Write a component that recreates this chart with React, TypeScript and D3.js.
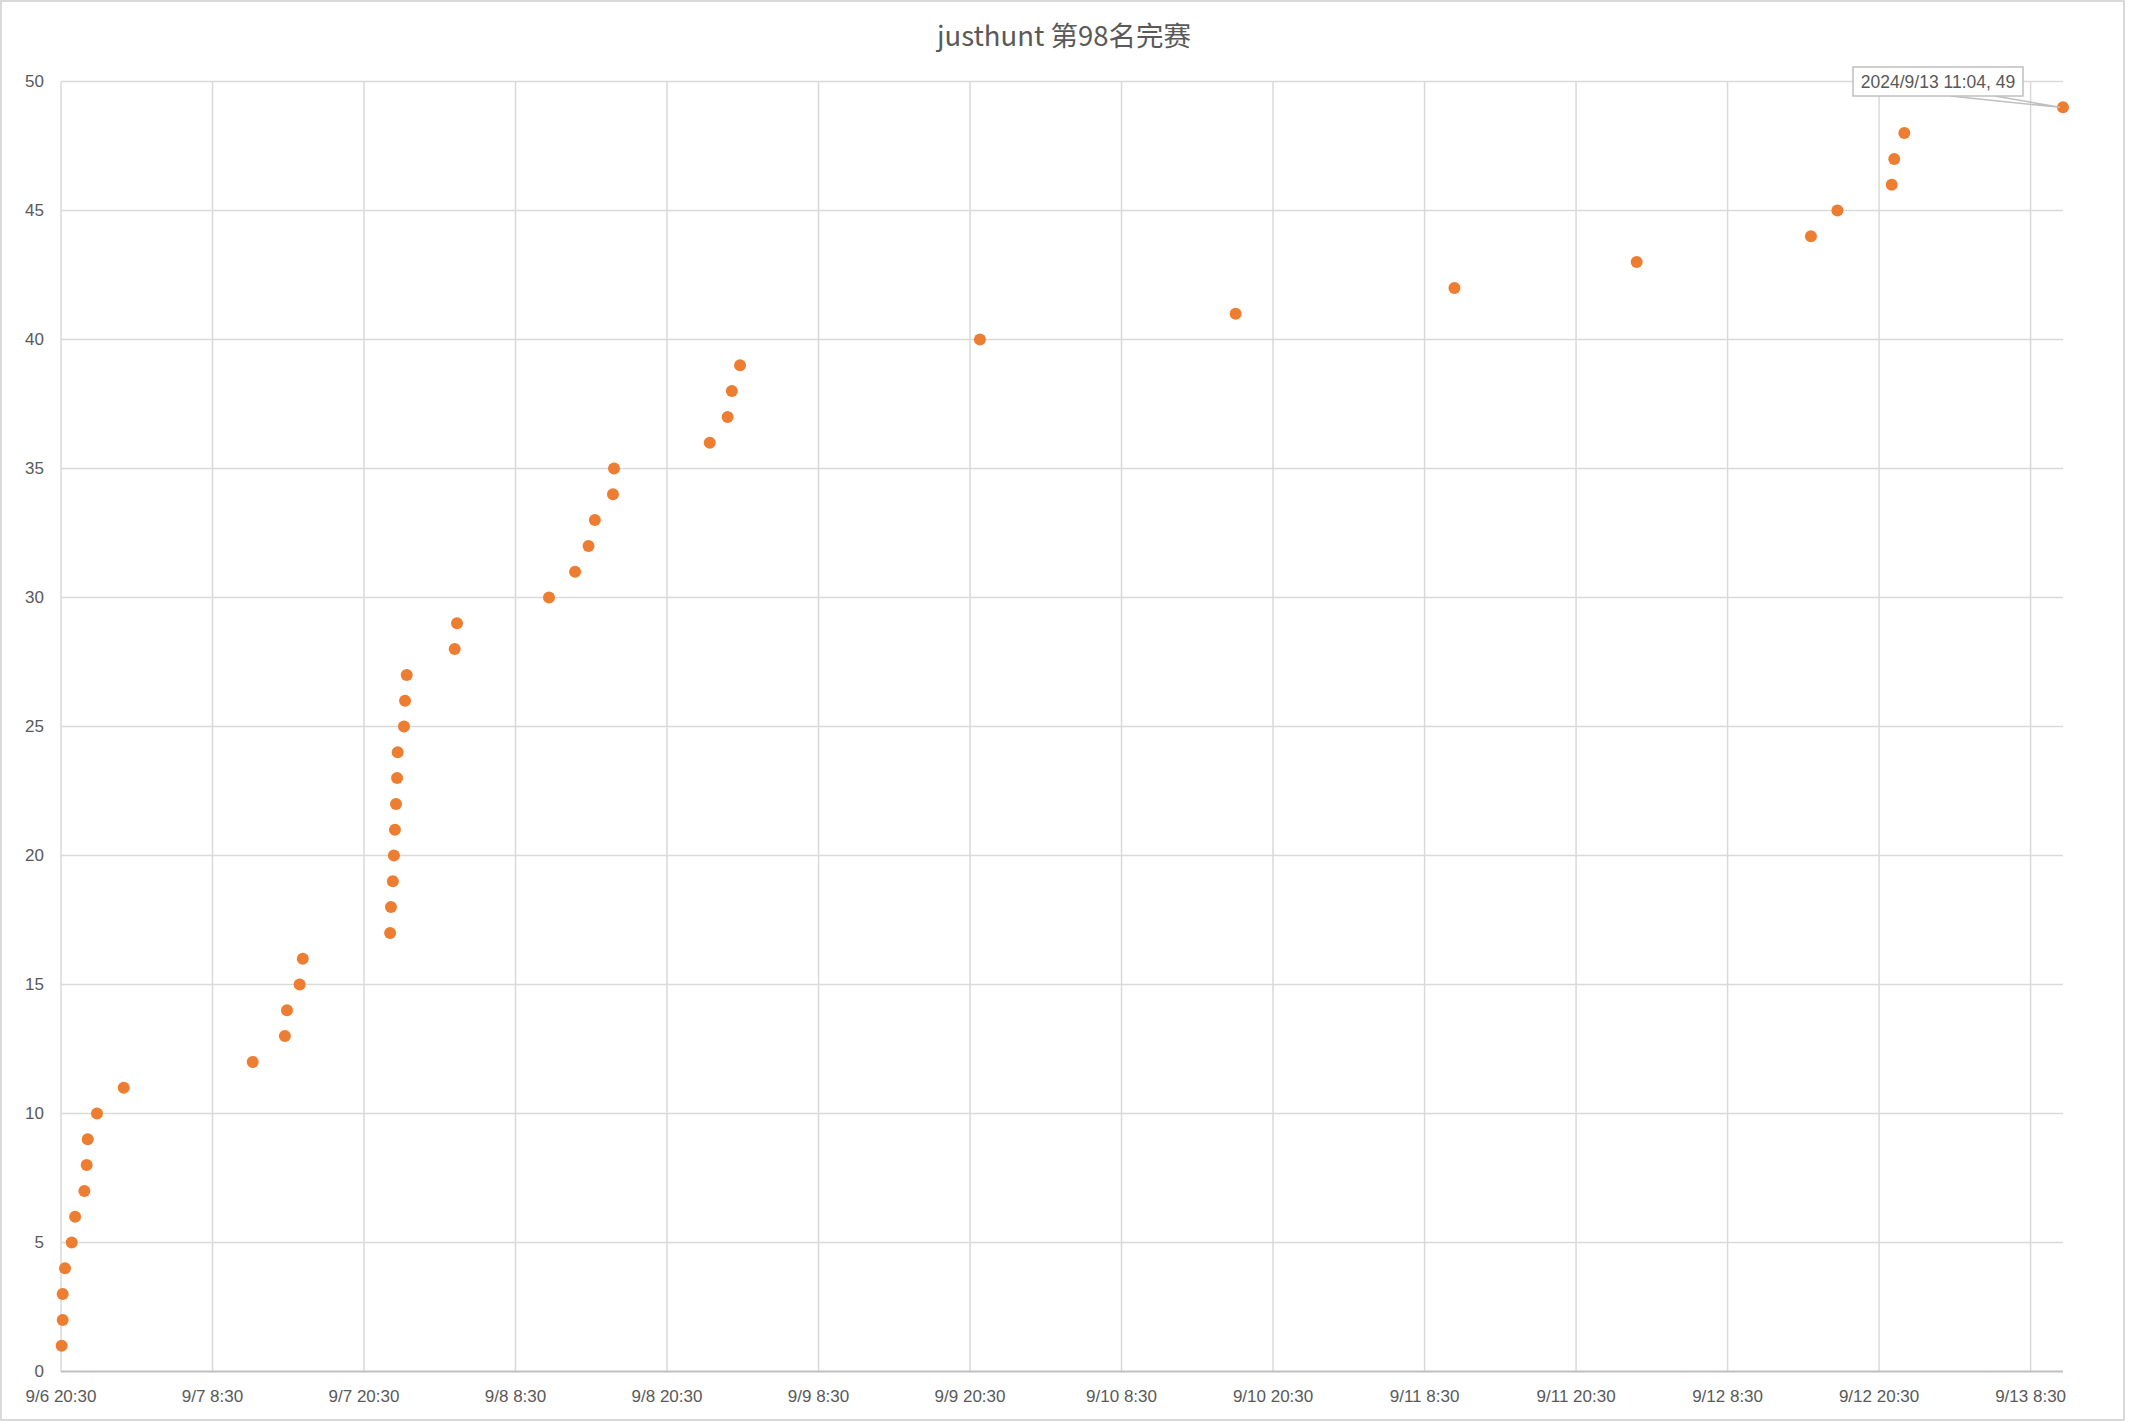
import React from "react";
import * as d3 from "d3";

const TITLE = "justhunt 第98名完赛";

const finishTimes: string[] = [
  "2024-09-06 20:33", "2024-09-06 20:38", "2024-09-06 20:38", "2024-09-06 20:49",
  "2024-09-06 21:21", "2024-09-06 21:37", "2024-09-06 22:21", "2024-09-06 22:32",
  "2024-09-06 22:37", "2024-09-06 23:21", "2024-09-07 01:28", "2024-09-07 11:41",
  "2024-09-07 14:14", "2024-09-07 14:24", "2024-09-07 15:24", "2024-09-07 15:39",
  "2024-09-07 22:34", "2024-09-07 22:38", "2024-09-07 22:47", "2024-09-07 22:52",
  "2024-09-07 22:57", "2024-09-07 23:02", "2024-09-07 23:07", "2024-09-07 23:10",
  "2024-09-07 23:40", "2024-09-07 23:45", "2024-09-07 23:53", "2024-09-08 03:41",
  "2024-09-08 03:52", "2024-09-08 11:09", "2024-09-08 13:13", "2024-09-08 14:17",
  "2024-09-08 14:47", "2024-09-08 16:13", "2024-09-08 16:18", "2024-09-08 23:53",
  "2024-09-09 01:18", "2024-09-09 01:38", "2024-09-09 02:17", "2024-09-09 21:17",
  "2024-09-10 17:32", "2024-09-11 10:52", "2024-09-12 01:18", "2024-09-12 15:06",
  "2024-09-12 17:12", "2024-09-12 21:30", "2024-09-12 21:42", "2024-09-12 22:30",
  "2024-09-13 11:04",
];

const ranks: number[] = [
  1, 2, 3, 4, 5, 6, 7, 8, 9, 10, 11, 12, 13, 14, 15, 16, 17, 18, 19, 20,
  21, 22, 23, 24, 25, 26, 27, 28, 29, 30, 31, 32, 33, 34, 35, 36, 37, 38, 39, 40,
  41, 42, 43, 44, 45, 46, 47, 48, 49,
];

const xTickTimes: string[] = [
  "2024-09-06 20:30", "2024-09-07 08:30", "2024-09-07 20:30", "2024-09-08 08:30",
  "2024-09-08 20:30", "2024-09-09 08:30", "2024-09-09 20:30", "2024-09-10 08:30",
  "2024-09-10 20:30", "2024-09-11 08:30", "2024-09-11 20:30", "2024-09-12 08:30",
  "2024-09-12 20:30", "2024-09-13 08:30",
];
const xTickLabels: string[] = [
  "9/6 20:30", "9/7 8:30", "9/7 20:30", "9/8 8:30", "9/8 20:30", "9/9 8:30",
  "9/9 20:30", "9/10 8:30", "9/10 20:30", "9/11 8:30", "9/11 20:30", "9/12 8:30",
  "9/12 20:30", "9/13 8:30",
];
const yTicks: number[] = [0, 5, 10, 15, 20, 25, 30, 35, 40, 45, 50];

const xDomain: string[] = ["2024-09-06 20:30", "2024-09-13 11:04"];
const calloutText = "2024/9/13 11:04, 49";

const parse = d3.timeParse("%Y-%m-%d %H:%M");

export default function App() {
  const W = 2129;
  const H = 1422;
  const left = 61;
  const right = 2063;
  const top = 81.5;
  const bottom = 1371.5;

  const x = d3
    .scaleTime()
    .domain([parse(xDomain[0]) as Date, parse(xDomain[1]) as Date])
    .range([left, right]);
  const y = d3.scaleLinear().domain([0, 50]).range([bottom, top]);

  const pts = finishTimes.map((t, i) => ({ t: parse(t) as Date, v: ranks[i] }));
  const last = pts[pts.length - 1];
  const lx = x(last.t);
  const ly = y(last.v);

  const textColor = "#595959";
  const gridColor = "#D9D9D9";
  const font = "'Liberation Sans', Arial, sans-serif";

  const boxX = 1853;
  const boxY = 67;
  const boxW = 170;
  const boxH = 29;

  return (
    <svg
      width={W}
      height={H}
      style={{ position: "absolute", left: 0, top: 0, background: "#fff" }}
    >
      <rect x={0} y={0} width={W} height={H} fill="#fff" />
      <rect x={1} y={1} width={2123} height={1419} fill="#fff" stroke={gridColor} strokeWidth={2} />
      <text
        x={1064}
        y={46}
        textAnchor="middle"
        fontFamily="'Noto Sans CJK SC', 'Noto Sans', sans-serif"
        fontSize={27.5}
        fill={textColor}
      >
        {TITLE}
      </text>

      {yTicks.map((v) =>
        v === 0 ? null : (
          <line key={"hy" + v} x1={left} x2={right} y1={y(v)} y2={y(v)} stroke={gridColor} strokeWidth={1.5} />
        )
      )}
      {xTickTimes.map((t) => {
        const xx = x(parse(t) as Date);
        return <line key={"vx" + t} x1={xx} x2={xx} y1={top} y2={bottom} stroke={gridColor} strokeWidth={1.5} />;
      })}
      <line x1={left} x2={right} y1={bottom} y2={bottom} stroke="#BFBFBF" strokeWidth={2} />

      {yTicks.map((v) => (
        <text
          key={"yl" + v}
          x={44}
          y={y(v)}
          dy="0.35em"
          textAnchor="end"
          fontFamily={font}
          fontSize={17}
          fill={textColor}
        >
          {v}
        </text>
      ))}
      {xTickTimes.map((t, i) => (
        <text
          key={"xl" + t}
          x={x(parse(t) as Date)}
          y={1402}
          textAnchor="middle"
          fontFamily={font}
          fontSize={17}
          fill={textColor}
        >
          {xTickLabels[i]}
        </text>
      ))}

      {pts.map((p, i) => (
        <circle key={"p" + i} cx={x(p.t)} cy={y(p.v)} r={6} fill="#ED7D31" />
      ))}

      <polyline
        points={`${boxX + 97},${boxY + boxH} ${lx - 3},${ly} ${boxX + 142},${boxY + boxH}`}
        fill="none"
        stroke="#BFBFBF"
        strokeWidth={1.5}
      />
      <rect x={boxX} y={boxY} width={boxW} height={boxH} fill="#fff" stroke="#BFBFBF" strokeWidth={1.5} />
      <text
        x={boxX + boxW / 2}
        y={boxY + boxH / 2}
        dy="0.35em"
        textAnchor="middle"
        fontFamily={font}
        fontSize={17.5}
        fill={textColor}
      >
        {calloutText}
      </text>
    </svg>
  );
}
